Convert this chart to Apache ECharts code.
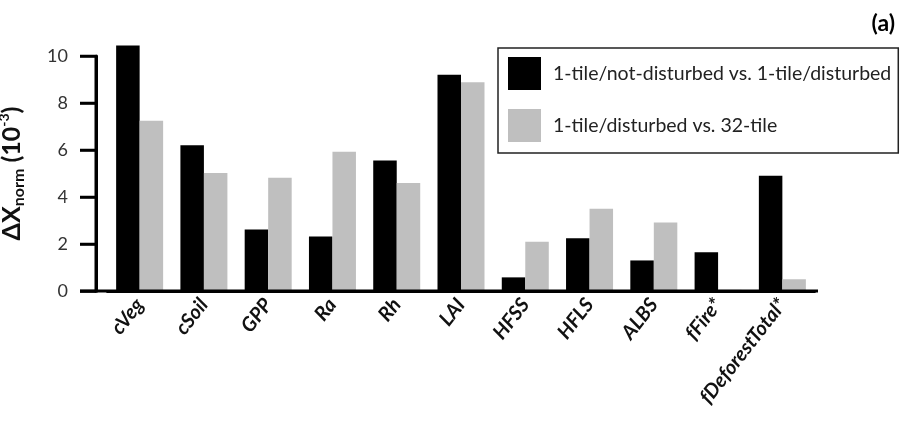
<!DOCTYPE html>
<html>
<head>
<meta charset="utf-8">
<script src="https://cdn.jsdelivr.net/npm/echarts@6/dist/echarts.min.js"></script>
<style>html,body{margin:0;padding:0;background:#fff}#c{width:903px;height:432px}</style>
</head>
<body>
<div id="c"></div>
<script>
var categories = ['cVeg','cSoil','GPP','Ra','Rh','LAI','HFSS','HFLS','ALBS','fFire*','fDeforestTotal*'];
var seriesNames = ['1-tile/not-disturbed vs. 1-tile/disturbed','1-tile/disturbed vs. 32-tile'];
var notDisturbedVsDisturbed = [10.45, 6.2, 2.62, 2.32, 5.55, 9.2, 0.58, 2.25, 1.3, 1.65, 4.9];
var disturbedVs32tile = [7.25, 5.02, 4.82, 5.93, 4.6, 8.88, 2.1, 3.5, 2.92, 0.05, 0.5];
var yTicks = [0, 2, 4, 6, 8, 10];

var FONT = 'Lato';
var AXIS_OFFSET = 11.5, TICK_LEN = 16, XLINE_LEFT_EXT = 27.5, XLINE_RIGHT_EXT = 3.5;

function renderAxisFrame(params, api) {
  var cs = params.coordSys;
  var ax = cs.x - AXIS_OFFSET;
  var v = api.value(1);
  var y = api.coord([0, v])[1];
  var children = [{
    type: 'line',
    shape: {x1: ax - TICK_LEN, y1: y, x2: ax, y2: y},
    style: {stroke: '#000', lineWidth: 2.5}
  }];
  if (params.dataIndex === 0) {
    var yTop = api.coord([0, yTicks[yTicks.length - 1]])[1];
    children.push({
      type: 'line',
      shape: {x1: ax, y1: y + 1.5, x2: ax, y2: yTop},
      style: {stroke: '#000', lineWidth: 3}
    });
    children.push({
      type: 'line',
      shape: {x1: cs.x - XLINE_LEFT_EXT, y1: y, x2: cs.x + cs.width + XLINE_RIGHT_EXT, y2: y},
      style: {stroke: '#000', lineWidth: 3}
    });
  }
  return {type: 'group', children: children};
}

var chart = echarts.init(document.getElementById('c'));
chart.setOption({
  animation: false,
  title: {
    text: '(a)', right: 3, top: 7,
    textStyle: {fontFamily: FONT, fontWeight: 'bold', fontSize: 23, color: '#000'}
  },
  legend: {
    orient: 'vertical', left: 498, top: 48,
    data: seriesNames,
    icon: 'rect', itemWidth: 33, itemHeight: 33, itemGap: 19,
    padding: [9, 7, 11, 10],
    borderColor: '#222', borderWidth: 1.5,
    textStyle: {fontFamily: FONT, fontSize: 19.5, color: '#222', padding: [0, 0, 0, 7]}
  },
  grid: {left: 107.5, right: 88.5, top: 56, bottom: 141, outerBoundsMode: 'none'},
  xAxis: {
    type: 'category', data: categories,
    axisLine: {show: true, lineStyle: {color: '#000', width: 3}},
    axisTick: {show: false},
    axisLabel: {
      rotate: 52, margin: 10, interval: 0,
      fontFamily: FONT, fontStyle: 'italic', fontWeight: 'bold', fontSize: 20, color: '#111'
    }
  },
  yAxis: {
    type: 'value', min: 0, max: 10, interval: 2, offset: AXIS_OFFSET,
    splitLine: {show: false},
    axisLine: {show: true, onZero: false, lineStyle: {color: '#000', width: 3}},
    axisTick: {show: true, length: TICK_LEN, lineStyle: {color: '#000', width: 2.5}},
    axisLabel: {margin: 28, fontFamily: FONT, fontSize: 18, color: '#333'},
    name: '{b|ΔX}{sub|norm}{b| (10}{sup|-3}{b|)}',
    nameLocation: 'middle', nameRotate: 90, nameGap: 69,
    nameTextStyle: {
      rich: {
        b: {fontFamily: FONT, fontWeight: 'bold', fontSize: 25, color: '#111', lineHeight: 30, verticalAlign: 'middle'},
        sub: {fontFamily: FONT, fontWeight: 'bold', fontSize: 16, color: '#111', lineHeight: 30, verticalAlign: 'bottom'},
        sup: {fontFamily: FONT, fontWeight: 'bold', fontSize: 14, color: '#111', lineHeight: 30, verticalAlign: 'top'}
      }
    }
  },
  series: [
    {
      name: seriesNames[0], type: 'bar', data: notDisturbedVsDisturbed,
      barWidth: 23.5, barGap: '0%', clip: false,
      itemStyle: {color: '#000'}
    },
    {
      name: seriesNames[1], type: 'bar', data: disturbedVs32tile,
      barWidth: 23.5, barGap: '0%', clip: false,
      itemStyle: {color: '#bfbfbf'}
    },
    {
      name: 'axisFrame', type: 'custom', clip: false, silent: true, z: 5,
      data: yTicks.map(function (t) { return [0, t]; }),
      encode: {x: 0, y: 1},
      renderItem: renderAxisFrame
    }
  ]
});
</script>
</body>
</html>
